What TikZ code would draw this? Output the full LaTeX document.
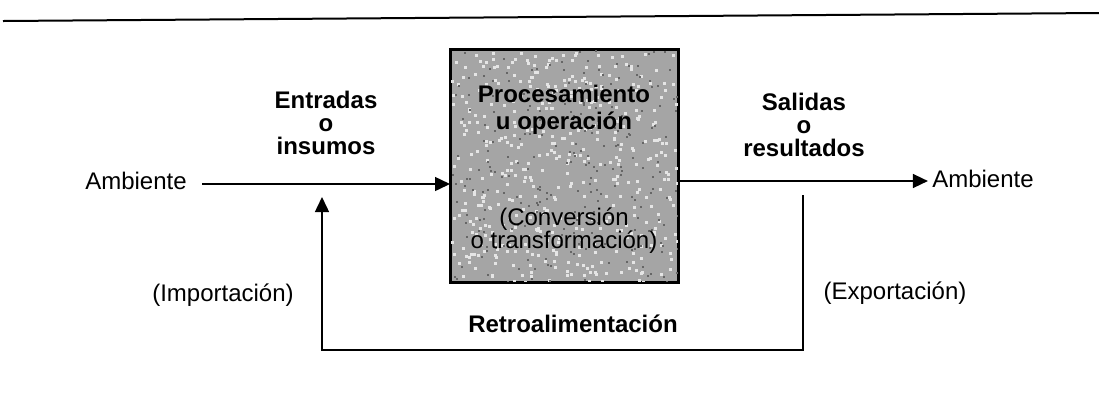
\documentclass[tikz,border=0pt]{standalone}
\usepackage{fontspec}
\setmainfont{Liberation Sans}
\usetikzlibrary{arrows.meta}
\tikzset{
  lbl/.style={inner sep=0pt, font=\fontsize{12}{12}\selectfont, align=center},
  blbl/.style={inner sep=0pt, align=center, font=\fontsize{12}{11.5}\selectfont\bfseries},
  intxt/.style={inner sep=0pt, align=center},
  conn/.style={line width=0.75pt, black},
  arr/.style={conn, -{Triangle[length=7.5pt,width=7pt]}},
  procbox/.style={draw=black, line width=1pt, fill={rgb,255:red,165;green,165;blue,165},
    minimum width=113.5pt, minimum height=116pt, inner sep=0pt}
}
\begin{document}
\begin{tikzpicture}[x=0.5pt,y=-0.5pt]
\useasboundingbox (0,0) rectangle (1099,393);
% top rule
\draw[line width=1pt] (3,21) -- (1099,13);
% process box
\node[procbox] (proc) at (564.5,166) {};
\begin{scope}
\clip (451,50) rectangle (678,282);
\pgfmathsetseed{7}
\foreach \i in {1,...,450} {
  \pgfmathsetmacro\rx{451+227*rnd}
  \pgfmathsetmacro\ry{50+232*rnd}
  \fill[white!80!gray] (\rx,\ry) rectangle ++(3,3);
}
\foreach \i in {1,...,250} {
  \pgfmathsetmacro\rx{451+227*rnd}
  \pgfmathsetmacro\ry{50+232*rnd}
  \fill[black!60] (\rx,\ry) rectangle ++(2,2);
}
\end{scope}
\draw[line width=1pt] (proc.north west) rectangle (proc.south east);
\node[intxt, font=\fontsize{12}{13.5}\selectfont\bfseries] (ptitle) at (564,110)
  {Procesamiento\\u operación};
\node[intxt, font=\fontsize{12}{11.5}\selectfont] (pconv) at (564,231)
  {(Conversión\\o transformación)};
% labels
\node[lbl] (ambL) at (136,181) {Ambiente};
\node[lbl] (ambR) at (983,179) {Ambiente};
\node[blbl] (entr) at (326,123) {Entradas\\o\\insumos};
\node[blbl] (sal) at (804,125) {Salidas\\o\\resultados};
\node[blbl] (retro) at (573,324) {Retroalimentación};
\node[lbl] (imp) at (223,295) {(Importación)};
\node[lbl] (exp) at (895,293) {(Exportación)};
% connectors
\coordinate (inL) at ([shift={(15,3)}]ambL.east);
\draw[arr] (inL) -- (inL -| proc.west);
\coordinate (outR) at ([shift={(-4,2)}]ambR.west);
\draw[arr] (outR -| proc.east) -- (outR);
\coordinate (fbR) at (803,195);
\coordinate (fbBR) at (803,350);
\coordinate (fbBL) at (322,350);
\coordinate (fbT) at (322,197);
\draw[arr] (fbR) -- (fbBR) -- (fbBL) -- (fbT);
\end{tikzpicture}
\end{document}
